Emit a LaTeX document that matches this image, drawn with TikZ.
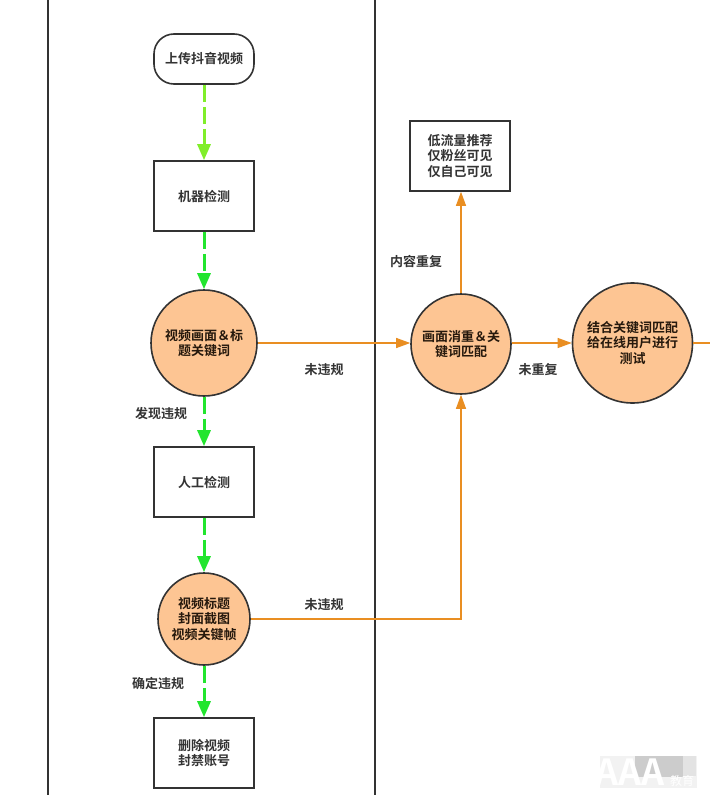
\documentclass[tikz,border=0pt]{standalone}
\usepackage{fontspec}
\setmainfont{Noto Sans CJK SC}[BoldFont={Noto Sans CJK SC Bold}]
\usetikzlibrary{arrows.meta,calc}
\definecolor{ink}{HTML}{333333}
\definecolor{peach}{HTML}{FDC593}
\definecolor{orangeline}{HTML}{E98E22}
\definecolor{greenA}{HTML}{80EE2A}
\definecolor{greenB}{HTML}{22E52E}
\tikzset{
  x=1pt,y=-1pt,
  base/.style={draw=ink,line width=1.6pt,text=ink,font=\fontsize{13}{15.5}\selectfont\bfseries,align=center,inner sep=0pt},
  boxnode/.style={base,rectangle,minimum width=100pt,minimum height=70pt,fill=white},
  startnode/.style={base,rectangle,rounded corners=20pt,minimum width=100pt,minimum height=50pt,fill=white},
  circlenode/.style={base,circle,fill=peach,text=black!80!brown},
  greenarrow/.style={line width=3pt,dash pattern=on 17pt off 5pt,-{Triangle[length=16pt,width=13pt]}},
  flow/.style={draw=orangeline,line width=1.1pt,-{Triangle[length=14pt,width=10pt]}},
  plainflow/.style={draw=orangeline,line width=1.1pt},
  lane/.style={ink,line width=1.6pt},
  tag/.style={text=ink,font=\fontsize{13}{15}\selectfont\bfseries,inner sep=0pt},
}
\begin{document}
\begin{tikzpicture}
\useasboundingbox (0,0) rectangle (710,795);
\fill[white] (0,0) rectangle (710,795);
\coordinate (laneAtop) at (48,0);
\coordinate (laneAbot) at (48,795);
\coordinate (laneBtop) at (375,0);
\coordinate (laneBbot) at (375,795);
\draw[lane] (laneAtop) -- (laneAbot);
\draw[lane] (laneBtop) -- (laneBbot);

\node[startnode] (start) at (204,59) {上传抖音视频};
\node[boxnode] (machine) at (204,196) {机器检测};
\node[circlenode,minimum size=106pt] (frame) at (204,343) {视频画面＆标\\题关键词};
\node[boxnode] (human) at (204,482) {人工检测};
\node[circlenode,minimum size=92pt] (title) at (204,619) {视频标题\\封面截图\\视频关键帧};
\node[boxnode] (remove) at (204,753) {删除视频\\封禁账号};
\node[boxnode] (low) at (460,156) {低流量推荐\\仅粉丝可见\\仅自己可见};
\node[circlenode,minimum size=100pt] (dedup) at (461,344) {画面消重＆关\\键词匹配};
\node[circlenode,minimum size=120pt] (test) at (632.5,343) {结合关键词匹配\\给在线用户进行\\测试};

\coordinate (exit) at (710,343);
\coordinate (bend) at (461,619);

\draw[greenarrow,greenA] (start) -- (machine);
\draw[greenarrow,greenB] (machine) -- (frame);
\draw[greenarrow,greenB] (frame) -- (human);
\draw[greenarrow,greenB] (human) -- (title);
\draw[greenarrow,greenB] (title) -- (remove);

\draw[flow] (frame.east) -- (frame.east -| dedup.west);
\draw[flow] (dedup.north) -- (low.south -| dedup.north);
\draw[flow] (dedup.east |- test.west) -- (test.west);
\draw[flow] (title.east) -- (bend) -- (dedup.south);
\draw[plainflow] (test.east) -- (exit);

\node[tag] (t1) at (324,369.5) {未违规};
\node[tag] (t2) at (161,413.5) {发现违规};
\node[tag] (t3) at (324,604.5) {未违规};
\node[tag] (t4) at (158,683.5) {确定违规};
\node[tag] (t5) at (416,261.5) {内容重复};
\node[tag] (t6) at (538,369.5) {未重复};

\fill[black!5] (600,756) rectangle (697,788);
\fill[black!20] (635,756) rectangle (683,777);
\fill[black!11] (683,756) rectangle (696,776);
\node[font=\fontsize{36}{36}\selectfont\bfseries,text=white,inner sep=0pt,anchor=center] (wm) at (630,772) {AAA};
\node[font=\fontsize{12}{12}\selectfont,text=white,inner sep=0pt] (wm2) at (682,781) {教育};
\end{tikzpicture}
\end{document}
